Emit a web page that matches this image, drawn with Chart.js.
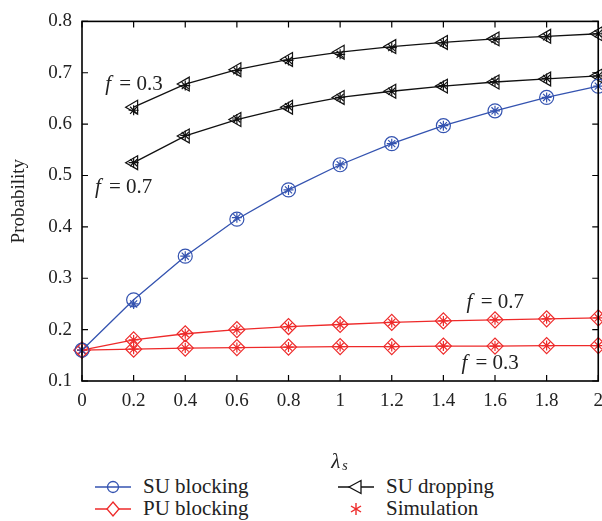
<!DOCTYPE html>
<html>
<head>
<meta charset="utf-8">
<script src="https://cdn.jsdelivr.net/npm/chart.js@4.4.1/dist/chart.umd.min.js"></script>
<style>
    body { margin: 0; background: #fff; }
    #wrap { position: relative; width: 602px; height: 521px; overflow: hidden; }
    #chart { position: absolute; left: 0; top: 0; }
    .legend { position: absolute; font-family: 'Liberation Serif', serif; font-size: 21px; color: #222; }
    .item { position: absolute; display: flex; align-items: center; white-space: nowrap; }
    .item svg { margin-right: 12px; }
</style>
</head>
<body>
<div id="wrap">
    <canvas id="chart" width="612" height="470"></canvas>
    <div class="legend">
        <div class="item" style="left:95px; top:474px;">
            <svg width="36" height="22"><line x1="0" y1="11" x2="36" y2="11" stroke="#3453b0" stroke-width="1.3"/><circle cx="18" cy="11" r="5.5" fill="none" stroke="#3453b0" stroke-width="1.3"/></svg>SU blocking
        </div>
        <div class="item" style="left:95px; top:496px;">
            <svg width="36" height="22"><line x1="0" y1="11" x2="36" y2="11" stroke="#ee2a2a" stroke-width="1.3"/><polygon points="18,4 24,11 18,18 12,11" fill="#fff" stroke="#ee2a2a" stroke-width="1.3"/></svg>PU blocking
        </div>
        <div class="item" style="left:338px; top:474px;">
            <svg width="36" height="22"><line x1="0" y1="11" x2="36" y2="11" stroke="#111" stroke-width="1.3"/><polygon points="11,11 23,4.5 23,17.5" fill="#fff" stroke="#111" stroke-width="1.3"/></svg>SU dropping
        </div>
        <div class="item" style="left:338px; top:496px;">
            <svg width="36" height="22"><g stroke="#ee2a2a" stroke-width="1.4"><line x1="18" y1="5" x2="18" y2="17"/><line x1="13" y1="8" x2="23" y2="14"/><line x1="13" y1="14" x2="23" y2="8"/></g></svg>Simulation
        </div>
    </div>
</div>
<script>
const lambda = [0, 0.2, 0.4, 0.6, 0.8, 1.0, 1.2, 1.4, 1.6, 1.8, 2.0];
const lambdaDrop = [0.2, 0.4, 0.6, 0.8, 1.0, 1.2, 1.4, 1.6, 1.8, 2.0];

const suBlocking = [0.160, 0.258, 0.343, 0.415, 0.472, 0.521, 0.562, 0.597, 0.626, 0.652, 0.674];
const suBlockingSim = [0.160, 0.250, 0.343, 0.418, 0.472, 0.521, 0.562, 0.597, 0.626, 0.652, 0.674];

const suDrop03 = [0.633, 0.678, 0.706, 0.726, 0.740, 0.751, 0.759, 0.766, 0.771, 0.776];
const suDrop03Sim = [0.627, 0.675, 0.704, 0.724, 0.736, 0.749, 0.758, 0.765, 0.770, 0.776];
const suDrop07 = [0.525, 0.577, 0.609, 0.633, 0.652, 0.664, 0.674, 0.682, 0.688, 0.694];
const suDrop07Sim = [0.525, 0.578, 0.610, 0.634, 0.652, 0.664, 0.675, 0.683, 0.689, 0.694];

const puBlock07 = [0.160, 0.180, 0.192, 0.200, 0.206, 0.210, 0.214, 0.217, 0.219, 0.221, 0.223];
const puBlock03 = [0.160, 0.162, 0.164, 0.165, 0.166, 0.167, 0.167, 0.168, 0.168, 0.169, 0.169];

const yTicks = [0.1, 0.2, 0.3, 0.4, 0.5, 0.6, 0.7, 0.8];

const BLUE = '#3453b0';
const RED = '#ee2a2a';
const BLACK = '#111';
const FONT = "'Liberation Serif', serif";

function pts(xs, ys) {
    return xs.map((x, i) => ({ x: x, y: ys[i] }));
}

function lineSet(xs, ys, color, style, rot, r) {
    return {
        data: pts(xs, ys),
        borderColor: color,
        backgroundColor: 'rgba(0,0,0,0)',
        borderWidth: 1.3,
        pointStyle: style,
        pointRotation: rot || 0,
        pointRadius: r || 7,
        pointBorderWidth: 1.2,
        pointBorderColor: color,
        pointBackgroundColor: 'rgba(0,0,0,0)',
        tension: 0
    };
}

function simSet(xs, ys, color) {
    return {
        data: pts(xs, ys),
        showLine: false,
        borderColor: color,
        pointStyle: 'star',
        pointRadius: 5,
        pointBorderWidth: 1.2,
        pointBorderColor: color
    };
}

// inward ticks on all four sides, box frame and annotations
const decor = {
    id: 'decor',
    afterDraw(chart) {
        const ctx = chart.ctx;
        const a = chart.chartArea;
        const xs = chart.scales.x;
        const ys = chart.scales.y;
        ctx.save();
        ctx.strokeStyle = '#000';
        ctx.lineWidth = 1.6;
        ctx.strokeRect(a.left, a.top, a.right - a.left, a.bottom - a.top);
        ctx.lineWidth = 1.2;
        ctx.beginPath();
        lambda.forEach(v => {
            const px = xs.getPixelForValue(v);
            ctx.moveTo(px, a.bottom); ctx.lineTo(px, a.bottom - 6);
            ctx.moveTo(px, a.top); ctx.lineTo(px, a.top + 6);
        });
        yTicks.forEach(v => {
            const py = ys.getPixelForValue(v);
            ctx.moveTo(a.left, py); ctx.lineTo(a.left + 6, py);
            ctx.moveTo(a.right, py); ctx.lineTo(a.right - 6, py);
        });
        ctx.stroke();

        // f annotations
        ctx.fillStyle = '#222';
        ctx.textBaseline = 'alphabetic';
        const label = (x, y, txt) => {
            const px = xs.getPixelForValue(x);
            const py = ys.getPixelForValue(y);
            ctx.font = "italic 21px " + FONT;
            ctx.fillText('f', px, py);
            const w = ctx.measureText('f ').width;
            ctx.font = "21px " + FONT;
            ctx.fillText('= ' + txt, px + w + 3, py);
        };
        label(0.09, 0.667, '0.3');
        label(0.05, 0.466, '0.7');
        label(1.49, 0.243, '0.7');
        label(1.47, 0.123, '0.3');

        // x axis title: lambda with subscript s
        const cx = (a.left + a.right) / 2;
        ctx.font = "italic 21px " + FONT;
        ctx.fillText('λ', cx - 9, 470 - 2);
        ctx.font = "italic 14px " + FONT;
        ctx.fillText('s', cx + 2, 470);
        ctx.restore();
    }
};

new Chart(document.getElementById('chart'), {
    type: 'line',
    data: {
        datasets: [
            lineSet(lambda, suBlocking, BLUE, 'circle'),
            lineSet(lambda, puBlock07, RED, 'rectRot', 0, 8),
            lineSet(lambda, puBlock03, RED, 'rectRot', 0, 8),
            lineSet(lambdaDrop, suDrop03, BLACK, 'triangle', -90, 8),
            lineSet(lambdaDrop, suDrop07, BLACK, 'triangle', -90, 8),
            simSet(lambda, suBlockingSim, BLUE),
            simSet(lambda, puBlock07, RED),
            simSet(lambda, puBlock03, RED),
            simSet(lambdaDrop, suDrop03Sim, BLACK),
            simSet(lambdaDrop, suDrop07Sim, BLACK)
        ]
    },
    options: {
        responsive: false,
        animation: false,
        clip: false,
        layout: { padding: { top: 12, right: 0, left: 0, bottom: 0 } },
        plugins: {
            legend: { display: false },
            tooltip: { enabled: false }
        },
        scales: {
            x: {
                type: 'linear',
                min: 0,
                max: 2,
                grid: { display: false, drawTicks: false },
                border: { display: false },
                afterFit: s => { s.height = 89; },
                ticks: {
                    stepSize: 0.2,
                    padding: 9,
                    color: '#222',
                    font: { family: FONT, size: 19 },
                    maxRotation: 0,
                    callback: v => String(Math.round(v * 10) / 10)
                }
            },
            y: {
                min: 0.1,
                max: 0.8,
                grid: { display: false, drawTicks: false },
                border: { display: false },
                afterFit: s => { s.width = 82; },
                title: {
                    display: true,
                    text: 'Probability',
                    color: '#222',
                    font: { family: FONT, size: 19 },
                    padding: { top: 8, bottom: 0 }
                },
                ticks: {
                    stepSize: 0.1,
                    padding: 10,
                    color: '#222',
                    font: { family: FONT, size: 19 },
                    callback: v => v.toFixed(1)
                }
            }
        }
    },
    plugins: [decor]
});
</script>
</body>
</html>
